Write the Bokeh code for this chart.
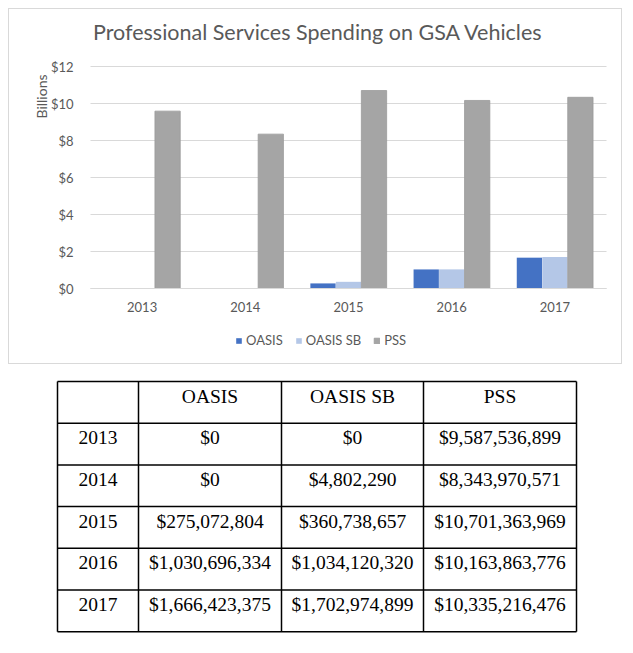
from bokeh.plotting import figure
from bokeh.models import (ColumnDataSource, Range1d, Legend, LegendItem, LinearAxis,
                          FixedTicker, NumeralTickFormatter, Label)
from bokeh.transform import dodge
from bokeh.core.properties import value
from bokeh.embed import file_html
from bokeh.resources import INLINE

# ---------------- data ----------------
years = ["2013", "2014", "2015", "2016", "2017"]
series_names = ["OASIS", "OASIS SB", "PSS"]
oasis = [0, 0, 275072804, 1030696334, 1666423375]
oasis_sb = [0, 4802290, 360738657, 1034120320, 1702974899]
pss = [9587536899, 8343970571, 10701363969, 10163863776, 10335216476]
y_ticks = [0, 2, 4, 6, 8, 10, 12]
title_text = "Professional Services Spending on GSA Vehicles"
unit_label = "Billions"

colors = ["#4472C4", "#B4C7E7", "#A5A5A5"]
TXT = "#595959"
GRID = "#D9D9D9"
SANS = "Lato"

xi = list(range(len(years)))
src = ColumnDataSource(dict(
    xi=xi,
    oasis=[v / 1e9 for v in oasis],
    oasis_sb=[v / 1e9 for v in oasis_sb],
    pss=[v / 1e9 for v in pss],
))

# ---------------- chart geometry (page pixels) ----------------
P_LEFT, P_TOP, P_W, P_H = 9, 9, 614, 356     # canvas content box on the page
CAT0_X, CAT_W = 141.6, 103.2                 # first category centre, px per category
ZERO_Y, PX_PER_Y = 288, 18.5                 # $0 line and px per billion


def dx(px):
    return (px - CAT0_X) / CAT_W


def dy(py):
    return (ZERO_Y - py) / PX_PER_Y


p = figure(width=P_W, height=P_H,
           x_range=Range1d(dx(P_LEFT), dx(P_LEFT + P_W)),
           y_range=Range1d(dy(P_TOP + P_H), dy(P_TOP)),
           x_axis_type=None, y_axis_type=None,
           output_backend="svg", toolbar_location=None, min_border=0)
p.styles = {"margin-left": "8px", "margin-top": "8px", "border": "1px solid #D9D9D9"}
p.outline_line_color = None
p.background_fill_color = "white"
p.border_fill_color = "white"
p.grid.visible = False

x_lo, x_hi = -0.5, len(years) - 0.5

# gridlines
p.segment(x0=[x_lo] * len(y_ticks), x1=[x_hi] * len(y_ticks), y0=y_ticks, y1=y_ticks,
          line_color=GRID, line_width=1)

step = 0.247
bw = 0.245
r1 = p.vbar(x=dodge("xi", -step), top="oasis", width=bw, source=src,
            fill_color=colors[0], line_color=None)
r2 = p.vbar(x=dodge("xi", 0), top="oasis_sb", width=bw, source=src,
            fill_color=colors[1], line_color=None)
r3 = p.vbar(x=dodge("xi", step), top="pss", width=bw, source=src,
            fill_color=colors[2], line_color="#9A9A9A", line_width=0.8)

yaxis = LinearAxis(fixed_location=x_lo, ticker=FixedTicker(ticks=y_ticks),
                   formatter=NumeralTickFormatter(format="$0"),
                   axis_line_color=None, major_tick_line_color=None, minor_tick_line_color=None,
                   major_label_text_font=SANS, major_label_text_font_size="13px",
                   major_label_text_color=TXT, major_label_standoff=11)
p.add_layout(yaxis, "left")

xaxis = LinearAxis(fixed_location=0, bounds=(x_lo, x_hi), ticker=FixedTicker(ticks=xi),
                   major_label_overrides={i: y for i, y in zip(xi, years)},
                   axis_line_color=GRID, major_tick_line_color=None, minor_tick_line_color=None,
                   major_label_text_font=SANS, major_label_text_font_size="13px",
                   major_label_text_color=TXT, major_label_standoff=7)
p.add_layout(xaxis, "below")

p.add_layout(Label(x=dx(317.5), y=dy(31.7), text=title_text,
                   text_align="center", text_baseline="middle",
                   text_font=SANS, text_font_size="21.5px", text_color=TXT))
p.add_layout(Label(x=dx(41), y=dy(96), text=unit_label, angle=1.5708,
                   text_align="center", text_baseline="middle",
                   text_font=SANS, text_font_size="14px", text_color=TXT))

legend = Legend(items=[LegendItem(label=series_names[0], renderers=[r1]),
                       LegendItem(label=series_names[1], renderers=[r2]),
                       LegendItem(label=series_names[2], renderers=[r3])],
                orientation="horizontal", location=(226, 17),
                glyph_width=7, glyph_height=7, label_standoff=4, spacing=12,
                label_height=16,
                label_text_font=SANS, label_text_font_size="13px", label_text_color=TXT,
                border_line_color=None, background_fill_alpha=0, margin=0, padding=0)
p.add_layout(legend)

# ---------------- table ----------------
T_TOP = 365
T_H = 280
t = figure(width=633, height=T_H, x_range=Range1d(0, 633), y_range=Range1d(T_TOP + T_H, T_TOP),
           output_backend="svg", toolbar_location=None, min_border=0)
t.axis.visible = False
t.grid.visible = False
t.outline_line_color = None

col_edges = [57, 138, 281, 423, 576]
TOP = 382
ROW_H = 41.7
n_rows = len(years) + 1
row_edges = [TOP + i * ROW_H for i in range(n_rows + 1)]

t.segment(x0=[col_edges[0]] * len(row_edges), x1=[col_edges[-1]] * len(row_edges),
          y0=row_edges, y1=row_edges, line_color="black", line_width=1.5)
t.segment(x0=col_edges, x1=col_edges, y0=[row_edges[0]] * len(col_edges),
          y1=[row_edges[-1]] * len(col_edges), line_color="black", line_width=1.5)

header = [""] + series_names
rows = [header] + [[yr, f"${a:,}", f"${b:,}", f"${c:,}"]
                   for yr, a, b, c in zip(years, oasis, oasis_sb, pss)]
tx, ty, tt = [], [], []
for ri, row in enumerate(rows):
    for ci, txt in enumerate(row):
        tx.append((col_edges[ci] + col_edges[ci + 1]) / 2)
        ty.append(row_edges[ri] + 14.5)
        tt.append(txt)
t.text(x=tx, y=ty, text=tt, text_align="center", text_baseline="middle",
       text_font=value("Liberation Serif"), text_font_size="19.5px", text_color="black")

open("out.html", "w").write(file_html([p, t], INLINE))
